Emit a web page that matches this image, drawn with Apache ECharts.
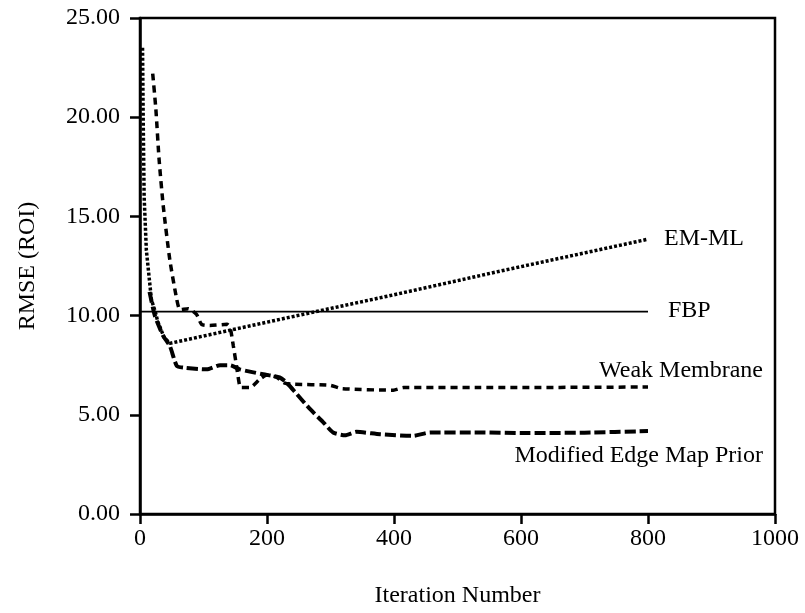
<!DOCTYPE html>
<html lang="en">
<head>
    <meta charset="UTF-8">
    <title>RMSE vs Iteration</title>
    <script src="https://cdn.jsdelivr.net/npm/echarts@6/dist/echarts.min.js"></script>
    <style>
        html, body { margin: 0; padding: 0; background: #fff; }
        #main { width: 805px; height: 613px; }
    </style>
</head>
<body>
<div id="main"></div>
<script>
    // iteration / RMSE pairs
    var emmlIter = [4, 5, 6.5, 10, 18, 24, 28, 38, 47, 200, 400, 567, 800];
    var emmlRmse = [23.5, 20.0, 16.0, 13.3, 10.8, 10.2, 9.7, 8.9, 8.6, 9.67, 11.05, 12.24, 13.85];

    var fbpIter = [0, 800];
    var fbpRmse = [10.2, 10.2];

    var weakIter = [20, 25, 30, 36.7, 47, 58, 63, 76, 89, 97, 110, 137, 142, 147, 152, 157, 160, 173, 189, 200, 215, 228, 241, 299, 318, 399, 415, 535, 800];
    var weakRmse = [22.2, 20.4, 17.9, 15.5, 12.8, 10.8, 10.3, 10.35, 10.06, 9.56, 9.5, 9.56, 9.39, 8.47, 7.46, 6.45, 6.37, 6.37, 6.8, 7.0, 6.9, 6.6, 6.54, 6.49, 6.32, 6.24, 6.37, 6.37, 6.4];

    var edgeIter = [15, 23.6, 36.7, 47, 58, 68, 105, 126, 142, 157, 194, 220, 231, 247, 268, 289, 304, 323, 341, 378, 430, 457, 535, 600, 700, 800];
    var edgeRmse = [11.2, 9.97, 8.97, 8.47, 7.46, 7.38, 7.29, 7.5, 7.5, 7.29, 7.04, 6.88, 6.62, 6.04, 5.28, 4.61, 4.11, 3.97, 4.14, 4.02, 3.94, 4.11, 4.11, 4.08, 4.1, 4.18];

    var xTicks = [0, 200, 400, 600, 800, 1000];
    var yTicks = [0, 5, 10, 15, 20, 25];

    function pairs(xs, ys) {
        var out = [];
        for (var i = 0; i < xs.length; i++) {
            out.push([xs[i], ys[i]]);
        }
        return out;
    }

    var serif = 'Liberation Serif';
    var txt = { fontFamily: serif, fontSize: 24, color: '#000' };
    var labelFont = '24px "Liberation Serif"';

    var chart = echarts.init(document.getElementById('main'));
    chart.setOption({
        backgroundColor: '#fff',
        animation: false,
        grid: {
            left: 140, right: 30, top: 18, bottom: 98,
            show: true, borderColor: '#000', borderWidth: 2.5
        },
        xAxis: {
            type: 'value',
            min: xTicks[0], max: xTicks[xTicks.length - 1], interval: 200,
            name: 'Iteration Number',
            nameLocation: 'middle',
            nameGap: 70,
            nameTextStyle: txt,
            axisLine: { onZero: false, lineStyle: { color: '#000', width: 2.5 } },
            axisTick: { length: 10, lineStyle: { color: '#000', width: 2.5 } },
            axisLabel: {
                margin: 13, fontFamily: serif, fontSize: 24, color: '#000',
                formatter: function (v) { return String(v); }
            },
            splitLine: { show: false }
        },
        yAxis: {
            type: 'value',
            min: yTicks[0], max: yTicks[yTicks.length - 1], interval: 5,
            name: 'RMSE (ROI)',
            nameLocation: 'middle',
            nameGap: 100,
            nameTextStyle: txt,
            axisLine: { onZero: false, lineStyle: { color: '#000', width: 2.5 } },
            axisTick: { length: 10, lineStyle: { color: '#000', width: 2.5 } },
            axisLabel: {
                margin: 20, fontFamily: serif, fontSize: 24, color: '#000',
                formatter: function (v) { return v.toFixed(2); }
            },
            splitLine: { show: false }
        },
        graphic: [
            { type: 'text', left: 664, top: 227, style: { text: 'EM-ML', font: labelFont, fill: '#000' } },
            { type: 'text', left: 668, top: 299, style: { text: 'FBP', font: labelFont, fill: '#000' } },
            { type: 'text', right: 42, top: 359, style: { text: 'Weak Membrane', font: labelFont, fill: '#000' } },
            { type: 'text', right: 42, top: 444, style: { text: 'Modified Edge Map Prior', font: labelFont, fill: '#000' } }
        ],
        series: [
            {
                name: 'EM-ML', type: 'line', showSymbol: false,
                data: pairs(emmlIter, emmlRmse),
                lineStyle: { color: '#000', width: 3.5, type: [3, 2] }
            },
            {
                name: 'FBP', type: 'line', showSymbol: false,
                data: pairs(fbpIter, fbpRmse),
                lineStyle: { color: '#000', width: 1.8, type: 'solid' }
            },
            {
                name: 'Weak Membrane', type: 'line', showSymbol: false, smooth: 0.2,
                data: pairs(weakIter, weakRmse),
                lineStyle: { color: '#000', width: 3.5, type: [7, 5] }
            },
            {
                name: 'Modified Edge Map Prior', type: 'line', showSymbol: false, smooth: 0.2,
                data: pairs(edgeIter, edgeRmse),
                lineStyle: { color: '#000', width: 4, type: [11, 4] }
            }
        ]
    });
</script>
</body>
</html>
